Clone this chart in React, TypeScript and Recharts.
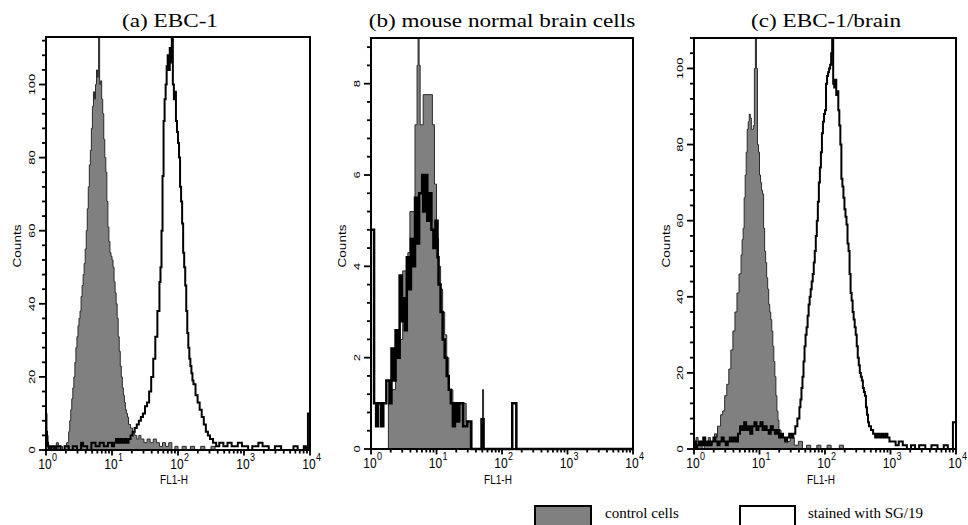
import React from 'react';
import { ComposedChart, Area, Line, XAxis, YAxis } from 'recharts';

type Pt = [number, number];

// x axis: 64 channels per decade, 10^0 .. 10^4
const DECADE_LABELS = ['0', '1', '2', '3', '4'];
const CH_PER_DECADE = 64;
const MINOR_LOG = [0.301, 0.477, 0.602, 0.699, 0.778, 0.845, 0.903, 0.954];

const TITLES = ['(a) EBC-1', '(b) mouse normal brain cells', '(c) EBC-1/brain'];
const LEGEND_LABELS = ['control cells', 'stained with SG/19'];

// ---- panel (a) EBC-1 : [channel, counts]
const A_CONTROL: Pt[] = [
  [0, 10], [1, 4], [2, 1], [4, 0], [6, 1], [8, 0], [10, 2], [12, 0], [14, 1], [16, 0], [18, 1], [20, 2],
  [22, 5], [23, 8], [24, 11], [25, 14], [26, 17], [27, 20], [28, 24], [29, 28], [30, 31], [31, 34],
  [32, 36], [33, 38], [34, 42], [35, 45], [36, 48], [37, 51], [38, 55], [39, 60], [40, 66], [41, 72],
  [42, 78], [43, 82], [44, 88], [45, 94], [46, 98], [47, 96], [48, 100], [49, 104], [50, 102], [51, 113],
  [52, 100], [53, 101], [54, 96], [55, 92], [56, 85], [57, 80], [58, 76], [59, 68], [60, 61], [61, 57],
  [62, 54], [63, 53], [64, 52], [65, 50], [66, 46], [67, 43], [68, 40], [69, 36], [70, 31], [71, 27],
  [72, 23], [73, 20], [74, 17], [75, 15], [76, 13], [77, 11], [78, 10], [79, 9], [80, 7], [82, 6],
  [84, 5], [86, 4], [88, 3], [90, 4], [92, 3], [95, 2], [98, 3], [101, 2], [104, 3], [107, 2], [110, 1],
  [113, 2], [116, 1], [119, 2], [122, 0], [125, 1], [128, 0], [132, 1], [136, 0], [140, 1], [144, 0],
  [150, 1], [154, 0], [160, 1], [164, 0], [256, 0],
];
const A_STAINED: Pt[] = [
  [0, 5], [1, 2], [2, 1], [3, 0], [5, 1], [8, 0], [10, 1], [14, 0], [18, 1], [22, 0], [26, 1], [30, 0],
  [34, 2], [36, 1], [40, 0], [44, 2], [48, 1], [52, 2], [56, 1], [60, 2], [64, 1], [66, 2], [68, 3],
  [70, 2], [72, 3], [74, 2], [76, 3], [78, 2], [80, 3], [82, 4], [84, 5], [86, 6], [88, 7], [90, 8],
  [92, 9], [94, 10], [96, 12], [98, 13], [100, 16], [102, 20], [104, 25], [106, 31], [108, 38], [110, 46],
  [111, 50], [112, 60], [113, 75], [114, 90], [115, 96], [116, 100], [117, 105], [118, 108], [119, 104],
  [120, 110], [121, 106], [122, 113], [123, 100], [124, 96], [125, 98], [126, 90], [127, 87], [128, 84],
  [129, 80], [130, 72], [131, 68], [132, 62], [133, 54], [134, 50], [135, 45], [136, 38], [137, 32],
  [138, 28], [139, 25], [140, 23], [141, 21], [142, 19], [143, 18], [145, 15], [147, 13], [149, 11],
  [151, 9], [153, 7], [155, 5], [157, 4], [159, 3], [162, 2], [165, 1], [168, 2], [172, 1], [176, 2],
  [180, 1], [186, 2], [190, 1], [196, 0], [200, 1], [206, 2], [210, 1], [216, 0], [222, 1], [228, 0],
  [240, 1], [244, 0], [250, 1], [252, 0], [254, 10], [256, 10],
];

// ---- panel (b) mouse normal brain cells
const B_CONTROL: Pt[] = [
  [0, 0], [17, 1.0], [20, 1.3], [24, 2.6], [28, 2.4], [31, 3.9], [36, 4.3], [38, 5.2], [43, 7.1],
  [45, 8.4], [46, 9], [47, 8.4], [48, 7.1], [51, 7.76], [60, 7.1], [62, 5.8], [64, 4.6], [66, 4.0],
  [68, 3.5], [70, 3.0], [72, 2.5], [74, 2.0], [76, 1.3], [80, 1.0], [84, 0.6], [87, 1.0], [93, 0.6],
  [97, 0], [109, 1.3], [110, 0], [256, 0],
];
const B_STAINED: Pt[] = [
  [0, 4.8], [3, 1.0], [5, 0.5], [7, 1.0], [10, 0.5], [12, 1.0], [15, 1.5], [18, 1.0], [20, 2.2],
  [22, 1.5], [24, 2.6], [26, 2.0], [28, 3.8], [30, 2.8], [31, 3.3], [33, 2.6], [35, 4.2], [37, 3.5],
  [39, 4.6], [41, 4.0], [43, 5.5], [45, 4.5], [47, 5.6], [50, 6.0], [51, 5.2], [53, 6.0], [55, 5.0],
  [57, 5.6], [59, 4.8], [61, 4.4], [63, 5.0], [65, 4.2], [66, 3.6], [68, 3.0], [70, 2.4], [72, 2.0],
  [74, 1.6], [76, 1.3], [78, 1.0], [80, 0.5], [82, 1.0], [84, 0.6], [86, 1.0], [90, 0.5], [94, 0.6],
  [98, 0], [108, 0.65], [110, 0], [138, 1.0], [142, 0], [256, 0],
];

// ---- panel (c) EBC-1/brain
const C_CONTROL: Pt[] = [
  [0, 1], [2, 3], [4, 1], [6, 2], [8, 0], [10, 2], [12, 1], [14, 3], [16, 1], [18, 2], [20, 4], [22, 3],
  [23, 6], [25, 6], [26, 9], [28, 10], [30, 14], [32, 17], [34, 21], [36, 26], [38, 31], [40, 36],
  [42, 41], [44, 46], [46, 51], [47, 55], [48, 58], [49, 66], [50, 72], [51, 78], [52, 84], [53, 86],
  [54, 88], [55, 87], [56, 84], [57, 84], [58, 85], [59, 100], [60, 108], [61, 100], [62, 80], [63, 78],
  [64, 72], [65, 70], [66, 68], [67, 67], [68, 58], [69, 52], [70, 49], [71, 45], [72, 42], [73, 38],
  [74, 36], [75, 34], [76, 31], [77, 27], [78, 23], [79, 19], [80, 14], [81, 10], [82, 7.6], [83, 5],
  [85, 4], [87, 3], [90, 2], [94, 3], [98, 1], [102, 2], [106, 0], [110, 1], [114, 0], [120, 1], [124, 0],
  [130, 1], [134, 0], [142, 1], [146, 0], [256, 0],
];
const C_STAINED: Pt[] = [
  [0, 2], [2, 0], [3, 1], [5, 2], [7, 1], [9, 3], [11, 1], [13, 2], [15, 1], [17, 2], [19, 3], [21, 2],
  [23, 1], [25, 2], [27, 3], [29, 2], [31, 1], [33, 2], [35, 3], [37, 2], [39, 3], [41, 2], [43, 4],
  [45, 6], [47, 5], [49, 7], [51, 5], [53, 6], [55, 4], [57, 6], [59, 7], [61, 5], [63, 6], [65, 7],
  [67, 5], [69, 6], [71, 5], [73, 4], [75, 6], [77, 5], [79, 4], [81, 5], [83, 3], [85, 4], [87, 3],
  [89, 2], [91, 3], [93, 4], [95, 3], [97, 4], [99, 6], [101, 8], [103, 11], [104, 13], [105, 16],
  [106, 19], [107, 23], [108, 27], [109, 30], [110, 32], [111, 35], [112, 38], [113, 40], [114, 42],
  [115, 44], [116, 46], [117, 49], [118, 52], [119, 56], [120, 60], [121, 65], [122, 70], [123, 74],
  [124, 78], [125, 83], [126, 86], [127, 88], [128, 89], [129, 96], [130, 98], [131, 99], [132, 100],
  [133, 101], [134, 104], [135, 108], [136, 96], [137, 95], [138, 97], [139, 93], [140, 94], [141, 89],
  [142, 85], [143, 80], [144, 71], [145, 69], [146, 66], [147, 63], [148, 61], [149, 59], [150, 54],
  [151, 52], [152, 46], [153, 41], [154, 39], [155, 36], [156, 34], [157, 32], [158, 30], [159, 27],
  [160, 24], [161, 22], [162, 20], [163, 19], [164, 18], [165, 16], [166, 15], [167, 14], [168, 11],
  [169, 9], [170, 7], [171, 6], [173, 5], [175, 4], [177, 3], [179, 4], [181, 3], [183, 4], [185, 3],
  [187, 4], [189, 3], [191, 2], [194, 2], [197, 1], [200, 2], [204, 1], [208, 0], [212, 1], [216, 0],
  [220, 1], [226, 0], [232, 1], [238, 0], [244, 1], [248, 0], [253, 7], [256, 7],
];

const A_Y_MAJOR = [0, 20, 40, 60, 80, 100];
const B_Y_MAJOR = [0, 2, 4, 6, 8];
const C_Y_MAJOR = [0, 20, 40, 60, 80, 100];

const SANS = 'Liberation Sans, Arial, sans-serif';
const SERIF = 'Liberation Serif, Times New Roman, serif';
const GRAY = '#808080';
const CH_MAX = CH_PER_DECADE * (DECADE_LABELS.length - 1);

const X_TICKS: number[] = [];
DECADE_LABELS.forEach((_, d) => {
  X_TICKS.push(d * CH_PER_DECADE);
  if (d < DECADE_LABELS.length - 1) MINOR_LOG.forEach((m) => X_TICKS.push((d + m) * CH_PER_DECADE));
});
const isMajorX = (v: number) => Math.abs(v / CH_PER_DECADE - Math.round(v / CH_PER_DECADE)) < 1e-6;

// x tick: tick mark (filled rect), 10^n label for decades; the tick at 0 also draws the plot frame
function XTick(props: any) {
  const { x, y, payload, plotW, plotH } = props;
  const v = payload.value;
  const major = isMajorX(v);
  const len = major ? 5.5 : 3.5;
  const d = Math.round(v / CH_PER_DECADE);
  return (
    <g>
      <rect x={x - 0.9} y={y} width={1.8} height={len} fill="#000" />
      {v === 0 && (
        <g>
          <rect x={x - 1} y={y - 1} width={plotW + 2} height={2} fill="#000" />
          <rect x={x - 1} y={y - plotH - 1} width={plotW + 2} height={2} fill="#000" />
          <rect x={x - 1} y={y - plotH - 1} width={2} height={plotH + 2} fill="#000" />
          <rect x={x + plotW - 1} y={y - plotH - 1} width={2} height={plotH + 2} fill="#000" />
        </g>
      )}
      {major && (
        <g>
          <text x={x - 1} y={y + 19.5} textAnchor="middle" fontSize={12} fontFamily={SANS} fill="#000"
            transform={`translate(0,${-(y + 19.5) * 0.25}) scale(1,1.25)`}>10</text>
          <text x={x + 6} y={y + 11.5} textAnchor="start" fontSize={9} fontFamily={SANS} fill="#000"
            transform={`translate(0,${-(y + 11.5) * 0.25}) scale(1,1.25)`}>{DECADE_LABELS[d]}</text>
        </g>
      )}
    </g>
  );
}

// y tick: tick mark (filled rect) and rotated label on majors
function YTick(props: any) {
  const { x, y, payload, majors } = props;
  const v = payload.value;
  const major = (majors as number[]).some((m) => Math.abs(m - v) < 1e-6);
  const len = major ? 7 : 4;
  return (
    <g>
      <rect x={x - len} y={y - 0.9} width={len} height={1.8} fill="#000" />
      {major && (
        <text x={x - 11} y={y} textAnchor="middle" fontSize={9.5} fontFamily={SANS} fill="#000"
          transform={`rotate(-90,${x - 11},${y})`} textLength={String(v).length * 7.2} lengthAdjust="spacingAndGlyphs">
          {v}
        </text>
      )}
    </g>
  );
}

interface PanelProps {
  id: string; left: number; width: number; plotLeft: number; plotRight: number; plotTop: number; plotBottom: number;
  control: Pt[]; stained: Pt[]; yMax: number; yMajor: number[]; yStep: number; stainedWidth: number;
}

function Panel(p: PanelProps) {
  const ctrl = p.control.map(([ch, count]) => ({ ch, count }));
  const st = p.stained.map(([ch, count]) => ({ ch, count }));
  const yTicks: number[] = [];
  for (let i = 0; i * p.yStep <= p.yMax + 1e-9; i++) yTicks.push(Math.round(i * p.yStep * 1000) / 1000);
  const AXH = 40;
  const YW = 40;
  const plotW = p.plotRight - p.plotLeft;
  const plotH = p.plotBottom - p.plotTop;
  return (
    <div style={{ position: 'absolute', left: p.left, top: 0 }}>
      <ComposedChart
        width={p.width}
        height={525}
        margin={{ top: p.plotTop, right: p.width - p.plotRight, bottom: 525 - p.plotBottom - AXH, left: p.plotLeft - YW }}
      >
        <XAxis xAxisId="b" dataKey="ch" type="number" domain={[0, CH_MAX]} ticks={X_TICKS} interval={0}
          tickSize={0} tickMargin={0} tickLine={false} tick={<XTick plotW={plotW} plotH={plotH} />}
          axisLine={{ stroke: '#000', strokeWidth: 2 }} stroke="#000" height={AXH} />
        <YAxis yAxisId="l" type="number" domain={[0, p.yMax]} ticks={yTicks} interval={0} tickSize={0} tickMargin={0}
          tickLine={false} tick={<YTick majors={p.yMajor} />}
          axisLine={{ stroke: '#000', strokeWidth: 2 }} stroke="#000" width={YW} />
        <Area id={p.id + '-control'} xAxisId="b" yAxisId="l" data={ctrl} dataKey="count" type="stepAfter" stroke="#2a2a2a" strokeWidth={1}
          fill={GRAY} fillOpacity={1} isAnimationActive={false} />
        <Line id={p.id + '-stained'} xAxisId="b" yAxisId="l" data={st} dataKey="count" type="stepAfter" stroke="#000"
          strokeWidth={p.stainedWidth} dot={false} isAnimationActive={false} />
      </ComposedChart>
    </div>
  );
}

const abs = (s: React.CSSProperties): React.CSSProperties => ({ position: 'absolute', whiteSpace: 'nowrap', ...s });

export default function App() {
  return (
    <div style={{ position: 'absolute', left: 0, top: 0, width: 968, height: 525, background: '#fff' }}>
      <Panel id="a" left={0} width={330} plotLeft={46} plotRight={310} plotTop={37} plotBottom={450}
        control={A_CONTROL} stained={A_STAINED} yMax={113} yMajor={A_Y_MAJOR} yStep={4} stainedWidth={2} />
      <Panel id="b" left={320} width={330} plotLeft={51} plotRight={313} plotTop={38} plotBottom={449}
        control={B_CONTROL} stained={B_STAINED} yMax={9} yMajor={B_Y_MAJOR} yStep={0.4} stainedWidth={2.5} />
      <Panel id="c" left={640} width={328} plotLeft={54} plotRight={316} plotTop={38} plotBottom={449}
        control={C_CONTROL} stained={C_STAINED} yMax={108} yMajor={C_Y_MAJOR} yStep={4} stainedWidth={2} />
      {[170, 502, 826].map((cx, i) => (
        <div key={'t' + i} style={abs({ left: cx, top: 20, fontFamily: SERIF, fontSize: 19, lineHeight: '19px',
          transform: 'translate(-50%,-50%) scaleX(1.22)' })}>{TITLES[i]}</div>
      ))}
      {[17.5, 343, 667].map((cx, i) => (
        <div key={'c' + i} style={abs({ left: cx, top: 246, fontFamily: SANS, fontSize: 10, lineHeight: '10px',
          transform: 'translate(-50%,-50%) rotate(-90deg) scaleX(1.35)' })}>Counts</div>
      ))}
      {[174, 498, 821].map((cx, i) => (
        <div key={'f' + i} style={abs({ left: cx, top: 480, fontFamily: SANS, fontSize: 10, lineHeight: '10px',
          transform: 'translate(-50%,-50%) scaleY(1.3)' })}>FL1-H</div>
      ))}
      <div style={abs({ left: 534, top: 505, width: 58, height: 26, boxSizing: 'border-box', border: '2px solid #000', background: GRAY })} />
      <div style={abs({ left: 605, top: 506, fontFamily: SERIF, fontSize: 15, lineHeight: '15px' })}>{LEGEND_LABELS[0]}</div>
      <div style={abs({ left: 739, top: 505, width: 57, height: 26, boxSizing: 'border-box', border: '2px solid #000', background: '#fff' })} />
      <div style={abs({ left: 808, top: 506, fontFamily: SERIF, fontSize: 15, lineHeight: '15px' })}>{LEGEND_LABELS[1]}</div>
    </div>
  );
}
